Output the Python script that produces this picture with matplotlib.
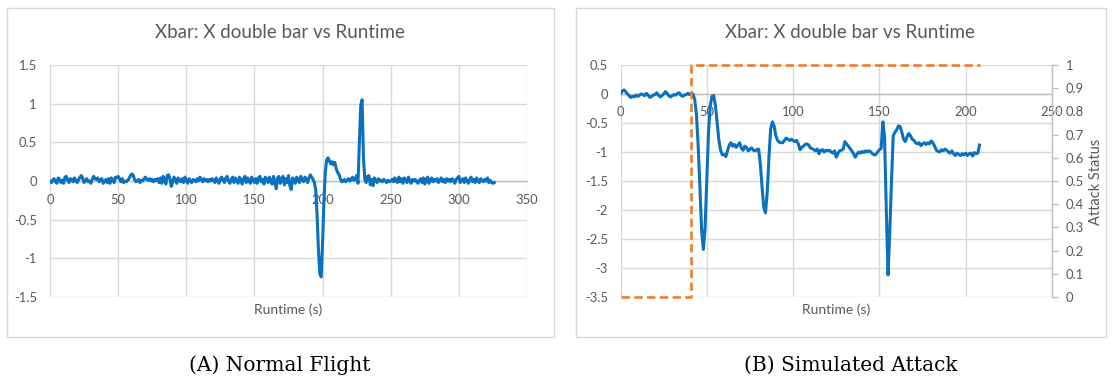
import matplotlib
matplotlib.use("Agg")
import matplotlib.pyplot as plt
from matplotlib.patches import Rectangle

# ---------------- data ----------------
# Normal flight: X double bar sampled once per second
normal_time = list(range(0, 327))
normal_xbar = [
    0.0, -0.02, 0.01, 0.03, -0.01, -0.03, 0.04, 0.02, -0.02, 0.01,
    -0.03, 0.05, 0.06, 0.01, -0.02, 0.03, 0.02, -0.01, 0.04, 0.0,
    -0.02, 0.02, 0.05, 0.07, 0.03, -0.02, 0.01, 0.03, -0.01, 0.0,
    -0.03, 0.02, 0.06, 0.03, 0.02, 0.04, -0.01, 0.02, 0.03, -0.03,
    -0.01, 0.02, -0.02, 0.03, -0.03, 0.04, 0.01, -0.02, 0.05, 0.04,
    0.06, 0.03, -0.01, 0.03, -0.02, 0.0, -0.01, 0.01, 0.03, 0.07,
    0.09, 0.08, 0.02, -0.01, 0.0, 0.02, -0.02, 0.01, 0.0, 0.03,
    0.05, 0.02, 0.01, 0.03, 0.0, 0.02, -0.01, 0.02, 0.01, 0.03,
    -0.02, 0.04, -0.03, 0.06, 0.02, -0.04, 0.07, 0.08, 0.03, -0.07,
    -0.02, 0.05, 0.02, -0.03, 0.04, 0.01, -0.01, 0.03, -0.02, 0.05,
    0.01, -0.03, 0.03, 0.0, -0.02, 0.02, 0.01, -0.01, 0.03, 0.0,
    0.05, 0.02, -0.01, 0.03, 0.0, 0.02, -0.01, 0.02, 0.0, 0.03,
    0.01, -0.02, 0.04, 0.0, -0.03, 0.03, 0.05, 0.01, -0.02, 0.04,
    0.06, 0.0, -0.03, 0.02, 0.05, -0.02, 0.04, 0.01, -0.03, 0.05,
    0.02, -0.04, 0.03, 0.06, -0.02, 0.04, 0.0, -0.03, 0.05, 0.01,
    -0.02, 0.03, -0.03, 0.04, 0.06, -0.01, 0.02, -0.04, 0.05, 0.02,
    -0.02, 0.05, 0.0, -0.04, 0.06, -0.02, -0.1, 0.04, 0.06, -0.03,
    0.02, 0.06, -0.05, 0.03, -0.02, 0.07, -0.06, -0.11, 0.04, 0.02,
    -0.03, 0.05, 0.01, -0.02, 0.06, 0.02, -0.01, 0.05, 0.03, -0.02,
    0.04, 0.08, 0.05, 0.02, -0.02, -0.12, -0.45, -0.9, -1.2, -1.24,
    -0.8, -0.25, 0.12, 0.27, 0.3, 0.26, 0.22, 0.25, 0.21, 0.24,
    0.16, 0.11, 0.09, 0.03, -0.01, 0.0, 0.02, -0.01, 0.01, 0.03,
    0.0, 0.02, 0.05, 0.01, 0.03, 0.07, -0.03, 0.5, 0.98, 1.05,
    0.3, 0.02, -0.02, 0.06, 0.07, -0.05, 0.02, -0.06, 0.04, 0.01,
    -0.02, 0.03, 0.0, 0.01, -0.01, 0.02, 0.0, -0.02, 0.01, -0.01,
    0.0, 0.02, -0.01, 0.04, 0.0, -0.02, 0.05, -0.01, 0.03, -0.03,
    0.04, 0.01, -0.02, 0.05, 0.0, -0.03, 0.02, 0.0, 0.02, -0.01,
    -0.03, 0.01, 0.03, -0.02, 0.04, -0.04, 0.02, 0.05, -0.03, 0.01,
    0.04, -0.01, 0.02, 0.0, 0.03, -0.02, 0.01, 0.04, -0.01, 0.02,
    -0.02, 0.03, 0.0, 0.02, -0.01, 0.03, 0.01, -0.03, 0.02, 0.04,
    0.06, -0.02, 0.01, 0.03, -0.02, 0.04, 0.0, -0.03, 0.02, 0.05,
    -0.01, 0.02, -0.02, 0.04, 0.0, -0.02, 0.03, 0.01, -0.01, 0.02,
    0.0, 0.04, -0.02, 0.01, -0.02, -0.03, -0.02,
]

# Simulated attack: X double bar sampled once per second
attack_time = list(range(0, 209))
attack_xbar = [
    0.0, 0.05, 0.07, 0.04, 0.0, -0.03, -0.06, -0.04, -0.05, -0.02,
    -0.04, -0.02, 0.0, -0.01, -0.03, 0.01, -0.02, -0.06, -0.04, -0.02,
    -0.01, 0.02, -0.02, -0.05, -0.03, 0.0, 0.04, 0.01, -0.03, -0.05,
    -0.03, -0.01, -0.02, 0.01, 0.02, -0.02, -0.04, -0.02, -0.01, 0.01,
    -0.01, 0.01, 0.0, -0.1, -0.35, -0.9, -1.6, -2.35, -2.68, -2.3,
    -1.5, -0.65, -0.2, -0.04, -0.03, -0.2, -0.5, -0.8, -0.97, -1.05,
    -1.04, -1.08, -0.98, -0.88, -0.84, -0.9, -0.87, -0.92, -0.88, -0.84,
    -0.93, -0.97, -0.9, -0.92, -0.98, -0.95, -0.93, -0.97, -0.98, -0.96,
    -0.95, -1.2, -1.6, -1.95, -2.05, -1.7, -1.1, -0.6, -0.48, -0.55,
    -0.72, -0.8, -0.83, -0.84, -0.84, -0.8, -0.76, -0.78, -0.8, -0.78,
    -0.8, -0.82, -0.8, -0.86, -0.96, -0.92, -0.9, -0.87, -0.86, -0.88,
    -0.93, -0.94, -0.96, -0.98, -0.95, -1.03, -0.97, -0.96, -1.0, -0.97,
    -0.98, -0.97, -1.0, -1.02, -0.98, -1.09, -1.02, -0.98, -0.97, -0.95,
    -0.82, -0.86, -0.9, -0.94, -0.98, -1.03, -1.09, -1.04, -1.0, -1.02,
    -0.99, -1.01, -0.98, -1.0, -0.98, -1.0, -1.03, -1.05, -1.04, -1.0,
    -0.96, -0.94, -0.48, -0.75, -2.0, -3.12, -2.4, -1.5, -0.72, -0.66,
    -0.62, -0.55, -0.56, -0.66, -0.78, -0.82, -0.74, -0.68, -0.72, -0.78,
    -0.8, -0.84, -0.86, -0.84, -0.89, -0.86, -0.84, -0.87, -0.84, -0.86,
    -0.81, -0.84, -0.9, -0.97, -0.99, -1.0, -0.96, -0.98, -0.95, -0.97,
    -1.0, -1.02, -0.98, -1.03, -1.06, -1.02, -1.04, -1.06, -1.03, -1.05,
    -1.02, -1.06, -1.03, -1.02, -1.07, -1.01, -1.03, -1.02, -0.88,
]

# Attack status (0 = off, 1 = active) as a step
status_time = [0, 41, 41, 208]
status_value = [0, 0, 1, 1]

normal_xticks = [0, 50, 100, 150, 200, 250, 300, 350]
normal_yticks = [-1.5, -1, -0.5, 0, 0.5, 1, 1.5]
attack_xticks = [0, 50, 100, 150, 200, 250]
attack_yticks = [-3.5, -3, -2.5, -2, -1.5, -1, -0.5, 0, 0.5]
status_ticks = [0, 0.1, 0.2, 0.3, 0.4, 0.5, 0.6, 0.7, 0.8, 0.9, 1]

title_text = "Xbar: X double bar vs Runtime"
xlabel_text = "Runtime (s)"
status_label = "Attack Status"
captions = ["(A) Normal Flight", "(B) Simulated Attack"]

# ---------------- style ----------------
W, H = 1112, 381
BLUE = "#0a70c0"
ORANGE = "#ed7d31"
GRID = "#d9d9d9"
AXIS = "#bfbfbf"
TEXT = "#595959"
FONT = ["Lato", "DejaVu Sans"]
TICK_SIZE = 9.4

plt.rcParams["font.family"] = FONT
plt.rcParams["lines.scale_dashes"] = False

fig = plt.figure(figsize=(W / 100, H / 100), dpi=100)
fig.patch.set_facecolor("white")


def fx(px):
    return px / W


def fy(py):
    return 1 - py / H


def make_axes(x0, x1, y0, y1):
    return fig.add_axes([fx(x0), fy(y1), fx(x1 - x0), (y1 - y0) / H])


def style_axes(ax, xticks, yticks, xlim, ylim, ypad):
    ax.set_xlim(*xlim)
    ax.set_ylim(*ylim)
    ax.set_xticks(xticks)
    ax.set_yticks(yticks)
    ax.set_xticklabels([f"{t:g}" for t in xticks])
    ax.set_yticklabels([f"{t:g}" for t in yticks])
    ax.grid(True, color=GRID, linewidth=1.0)
    ax.set_axisbelow(True)
    for s in ("top", "right", "left"):
        ax.spines[s].set_visible(False)
    ax.spines["bottom"].set_position(("data", 0))
    ax.spines["bottom"].set_color(AXIS)
    ax.spines["bottom"].set_linewidth(1.0)
    ax.tick_params(axis="both", length=0, labelsize=TICK_SIZE, colors=TEXT)
    ax.tick_params(axis="x", pad=9)
    ax.tick_params(axis="y", pad=ypad)
    ax.set_facecolor("none")


# chart frames
for (bx0, bx1) in [(7, 554), (576, 1106)]:
    fig.patches.append(Rectangle((fx(bx0), fy(337)), fx(bx1 - bx0), (337 - 8) / H,
                                 transform=fig.transFigure, fill=False,
                                 edgecolor=GRID, linewidth=1.0))

# ---- left chart: normal flight ----
axL = make_axes(50, 527, 65, 297)
style_axes(axL, normal_xticks, normal_yticks, (0, 350), (-1.5, 1.5), 9.5)
axL.plot(normal_time, normal_xbar, color=BLUE, linewidth=2.2,
         solid_joinstyle="round", zorder=3)
fig.text(fx(280), fy(33), title_text, ha="center", va="center",
         fontsize=13.5, color=TEXT)
fig.text(fx(288.5), fy(310), xlabel_text, ha="center", va="center",
         fontsize=10, color=TEXT)

# ---- right chart: simulated attack ----
axR = make_axes(620.5, 1052, 65, 297)
style_axes(axR, attack_xticks, attack_yticks, (0, 250), (-3.5, 0.5), 9.0)
axR.plot(attack_time, attack_xbar, color=BLUE, linewidth=2.2,
         solid_joinstyle="round", zorder=3)

axS = axR.twinx()
axS.set_ylim(0, 1)
axS.set_yticks(status_ticks)
axS.set_yticklabels([f"{t:g}" for t in status_ticks])
for s in ("top", "left", "bottom"):
    axS.spines[s].set_visible(False)
axS.spines["right"].set_color(AXIS)
axS.spines["right"].set_linewidth(1.0)
axS.tick_params(axis="y", length=4, width=1.0, color=AXIS, labelsize=TICK_SIZE,
                labelcolor=TEXT, pad=6)
axS.plot(status_time, status_value, color=ORANGE, linewidth=1.9,
         dashes=(6.0, 3.2), clip_on=False, zorder=4)

fig.text(fx(1096), fy(182), status_label, ha="center", va="center",
         rotation=90, fontsize=10.5, color=TEXT)
fig.text(fx(850), fy(33), title_text, ha="center", va="center",
         fontsize=13.5, color=TEXT)
fig.text(fx(836), fy(310), xlabel_text, ha="center", va="center",
         fontsize=10, color=TEXT)

# ---- captions ----
for cx, cap in zip([280, 851], captions):
    fig.text(fx(cx), fy(365), cap, ha="center", va="center", fontsize=14.5,
             color="black", family=["DejaVu Serif", "Liberation Serif"])

fig.savefig("out.png", dpi=100, facecolor="white")
